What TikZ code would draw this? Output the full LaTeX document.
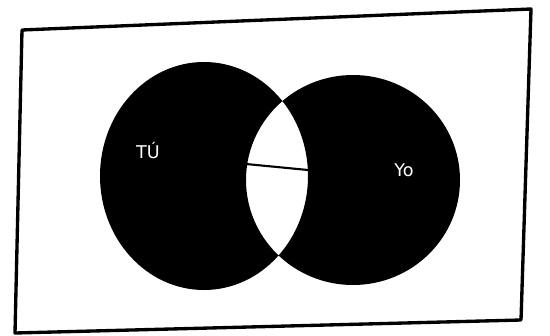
\documentclass[tikz,border=0pt]{standalone}
\usepackage{fontspec}
\setsansfont{DejaVu Sans}
\usepackage{tikz}

\begin{document}
\begin{tikzpicture}[
    x=0.02cm, y=-0.02cm,
    frame/.style={line width=1.9pt, line join=round, line cap=round},
    blob/.style={fill=black, even odd rule},
    cut/.style={line width=1.2pt, black},
    lbl/.style={text=white, font=\sffamily}
]
\useasboundingbox (0,0) rectangle (550,335);
\draw[frame] (22,30) -- (531,9) -- (521,320) -- (15,333) -- cycle;
\fill[blob] (204,176) ellipse [x radius=104, y radius=114]
            (353,180) ellipse [x radius=107, y radius=105];
\coordinate (lft) at (246,164);
\coordinate (rgt) at (308,170);
\draw[cut] (lft) -- (rgt);
\node[lbl] (tu) at (148,150) {TÚ};
\node[lbl] (yo) at (404,170) {Yo};
\end{tikzpicture}
\end{document}
